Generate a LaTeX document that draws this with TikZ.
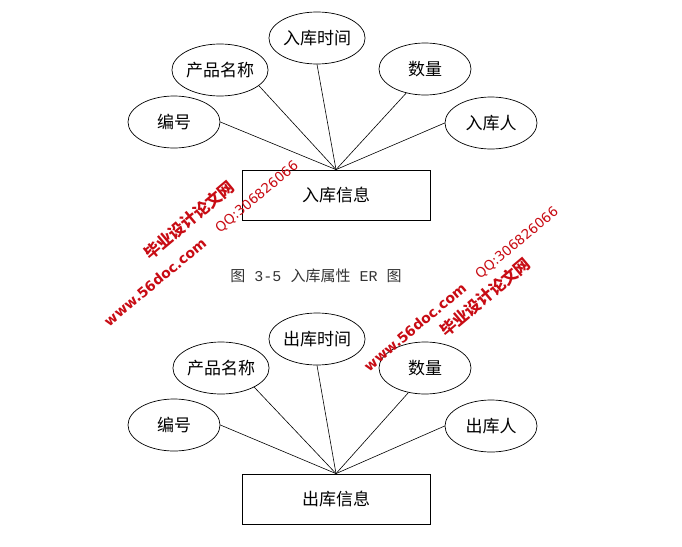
\documentclass[tikz,border=0pt]{standalone}
\usepackage{fontspec}
\usepackage{xcolor}
\usepackage{tikz}
\usetikzlibrary{shapes.geometric, positioning}
\newfontfamily\cjk{Noto Sans CJK SC}
\newfontfamily\wmfont{DejaVu Sans}
\newfontfamily\capmono{Liberation Mono}
\definecolor{wmred}{RGB}{200,12,20}

\begin{document}
\begin{tikzpicture}[
  x=1pt, y=-1pt,
  attr/.style={draw, ellipse, line width=0.7pt, inner sep=0pt,
               minimum width=92pt, minimum height=52pt, font=\cjk\fontsize{17}{17}\selectfont},
  entity/.style={draw, rectangle, line width=0.8pt, inner sep=0pt,
                 minimum width=188pt, minimum height=50pt, font=\cjk\fontsize{17}{17}\selectfont},
  link/.style={line width=0.6pt},
  wmcn/.style={text=wmred, rotate=40, font=\cjk\bfseries\fontsize{16}{16}\selectfont},
  wmurl/.style={text=wmred, rotate=40, font=\wmfont\bfseries\fontsize{14}{14}\selectfont},
  wmqq/.style={text=wmred, rotate=40, font=\wmfont\fontsize{13.5}{13.5}\selectfont},
]
\useasboundingbox (0,0) rectangle (682,546);

\node[attr] (idin)    at (174,122) {编号};
\node[attr] (namein)  at (220,70)  {产品名称};
\node[attr] (timein)  at (317,38)  {入库时间};
\node[attr] (qtyin)   at (425,69)  {数量};
\node[attr] (userin)  at (491,123) {入库人};
\node[entity] (stockin) at (336,195) {入库信息};

\draw[link] (idin.east) -- (stockin.north);
\draw[link] (namein.-22) -- (stockin.north);
\draw[link] (timein.south) -- (stockin.north);
\draw[link] (qtyin.-128) -- (stockin.north);
\draw[link] (userin.west) -- (stockin.north);

\node[text=black!80, font=\cjk\fontsize{15}{15}\selectfont] (capin) at (316,276)
  {图{\capmono\ 3-5 }入库属性{\capmono\ ER }图};

\node[attr] (idout)   at (174,425) {编号};
\node[attr] (nameout) at (221,368) {产品名称};
\node[attr] (timeout) at (317,339) {出库时间};
\node[attr] (qtyout)  at (425,368) {数量};
\node[attr] (userout) at (491,426) {出库人};
\node[entity] (stockout) at (336,499) {出库信息};

\draw[link] (idout.east) -- (stockout.north);
\draw[link] (nameout.-30) -- (stockout.north);
\draw[link] (timeout.south) -- (stockout.north);
\draw[link] (qtyout.-124) -- (stockout.north);
\draw[link] (userout.west) -- (stockout.north);

\node[wmcn]  (wmcnl)  at (189,220) {毕业设计论文网};
\node[wmqq]  (wmqql)  at (257,197) {QQ:306826066};
\node[wmurl] (wmurll) at (155,282) {www.56doc.com};

\node[wmcn]  (wmcnr)  at (485,297) {毕业设计论文网};
\node[wmqq]  (wmqqr)  at (517,243) {QQ:306826066};
\node[wmurl] (wmurlr) at (415,327) {www.56doc.com};
\end{tikzpicture}
\end{document}
